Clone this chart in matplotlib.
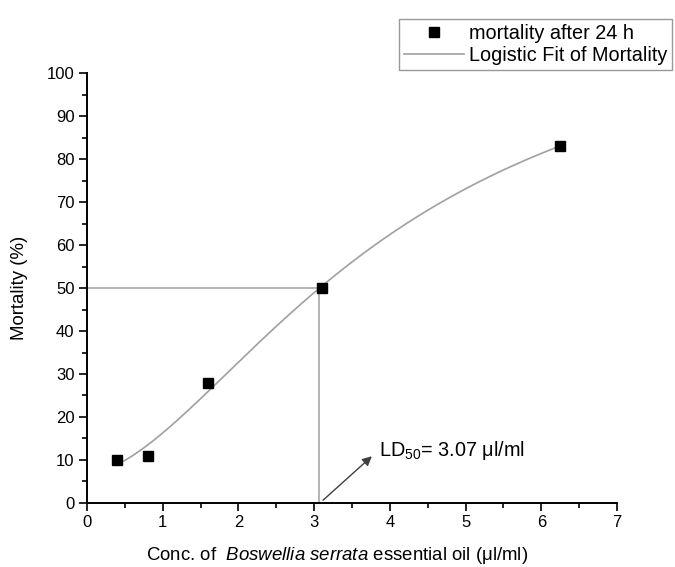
import numpy as np
import matplotlib
matplotlib.use("Agg")
import matplotlib.pyplot as plt
from matplotlib.ticker import MultipleLocator

plt.rcParams['font.family'] = ['Liberation Sans', 'DejaVu Sans']
plt.rcParams['mathtext.fontset'] = 'custom'
plt.rcParams['mathtext.rm'] = 'Liberation Sans'
plt.rcParams['mathtext.it'] = 'Liberation Sans:italic'
plt.rcParams['mathtext.bf'] = 'Liberation Sans:bold'

# Observed data
conc = [0.4, 0.8, 1.6, 3.1, 6.25]
mortality = [10, 11, 28, 50, 83]

# Logistic fit parameters (y = A2 + (A1 - A2) / (1 + (x/x0)^p))
A1, A2, x0, p = 6.8, 120.0, 4.08, 1.70
fit_range = [0.4, 6.25]
ld50 = 3.07

xticks = [0, 1, 2, 3, 4, 5, 6, 7]
yticks = [0, 10, 20, 30, 40, 50, 60, 70, 80, 90, 100]

fig = plt.figure(figsize=(6.75, 5.67), dpi=100)
ax = fig.add_axes([0.129, 0.113, 0.785, 0.758])

xs = np.linspace(fit_range[0], fit_range[1], 300)
ys = A2 + (A1 - A2) / (1 + (xs / x0) ** p)

gray = '#a0a0a0'
ax.plot([0, ld50], [50, 50], color=gray, lw=1.1, zorder=2)
ax.plot([ld50, ld50], [0, 50], color=gray, lw=1.1, zorder=2)
fit_line, = ax.plot(xs, ys, color=gray, lw=1.2, zorder=3, label='Logistic Fit of Mortality')
pts, = ax.plot(conc, mortality, 's', color='black', ms=7, zorder=4, label='mortality after 24 h',
               linestyle='none')

ax.annotate('', xy=(3.79, 11.3), xytext=(ld50 + 0.02, 0.2),
            arrowprops=dict(arrowstyle='-|>', color='#404040', lw=1.0, mutation_scale=14))
ax.text(3.86, 12.3, r'LD$_{50}$= 3.07 $\mathregular{\mu}$l/ml', fontsize=14.3, va='center', ha='left')

ax.set_xlim(0, 7)
ax.set_ylim(0, 100)
ax.set_xticks(xticks)
ax.set_yticks(yticks)
ax.xaxis.set_minor_locator(MultipleLocator(0.5))
ax.yaxis.set_minor_locator(MultipleLocator(5))
for s in ['top', 'right']:
    ax.spines[s].set_visible(False)
for s in ['left', 'bottom']:
    ax.spines[s].set_linewidth(1.4)
ax.tick_params(which='major', direction='out', length=6, width=1.2, labelsize=12, pad=3)
ax.tick_params(which='minor', direction='out', length=3.5, width=1.2)

ax.set_xlabel('Conc. of  $\\it{Boswellia\\ serrata}$ essential oil ($\\mathregular{\\mu}$l/ml)',
              fontsize=13.4)
ax.xaxis.set_label_coords(0.4726, -0.097)
ax.set_ylabel('Mortality (%)', fontsize=13.4)
ax.yaxis.set_label_coords(-0.111, 0.5)

leg = fig.legend(handles=[pts, fit_line], loc='upper right', bbox_to_anchor=(0.996, 0.967),
                 fontsize=14.3, frameon=True, fancybox=False, handlelength=3.0,
                 borderpad=0.25, labelspacing=0.15, handletextpad=0.25, borderaxespad=0)
leg.get_frame().set_edgecolor('#808080')
leg.get_frame().set_linewidth(1.0)

fig.savefig('out.png', dpi=100)
